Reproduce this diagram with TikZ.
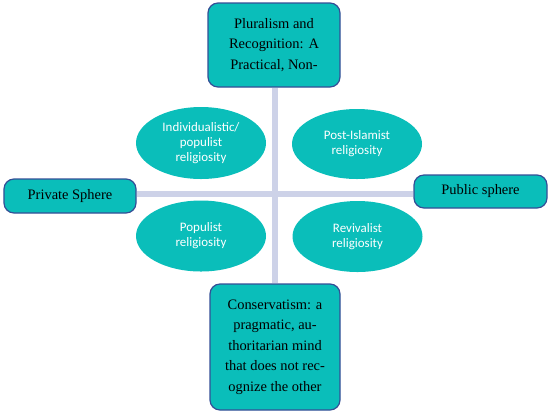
\documentclass[tikz,border=0pt]{standalone}
\usepackage{fontspec}
\setmainfont{Liberation Serif}
\newfontfamily\ellipsefont{Carlito}
\usetikzlibrary{shapes.geometric,backgrounds}
\definecolor{boxteal}{RGB}{10,190,186}
\definecolor{boxblue}{RGB}{52,78,150}
\definecolor{axisgrey}{RGB}{205,210,232}
\tikzset{
  sphere/.style={draw=boxblue,fill=boxteal,line width=1.2bp,rounded corners=10bp,
    align=center,font=\fontsize{14.5}{20.5}\selectfont,inner sep=0pt},
  religiosity/.style={ellipse,fill=boxteal,text=white,align=center,
    font=\ellipsefont\fontsize{13}{15}\selectfont,
    minimum width=130bp,minimum height=72bp,inner sep=0pt},
  axis/.style={draw=axisgrey,line width=6bp}
}

\begin{document}
\begin{tikzpicture}[x=1bp,y=-1bp]
\useasboundingbox (0,0) rectangle (550,414);
\node[sphere,minimum width=132bp,minimum height=84bp] (pluralism) at (274,45)
  {Pluralism and\\Recognition: A\\Practical, Non-};
\node[sphere,minimum width=130bp,minimum height=126bp] (conservatism) at (275,347)
  {Conservatism: a\\pragmatic, au-\\thoritarian mind\\that does not rec-\\ognize the other};
\node[sphere,minimum width=132bp,minimum height=34bp] (private) at (70,196) {Private Sphere};
\node[sphere,minimum width=133bp,minimum height=33bp] (public) at (480.5,191.5) {Public sphere};
\node[religiosity] (individualistic) at (201,143) {Individualistic/\\populist\\religiosity};
\node[religiosity,minimum height=70bp] (postislamist) at (357,144) {Post-Islamist\\religiosity};
\node[religiosity,minimum height=71bp] (populist) at (201,236) {Populist\\religiosity};
\node[religiosity,minimum height=71bp] (revivalist) at (357.5,236.5) {Revivalist\\religiosity};
\coordinate (cross) at (274.5,194);
\begin{scope}[on background layer]
\draw[axis] (private.east |- cross) -- (public.west |- cross);
\draw[axis] (pluralism.south -| cross) -- (conservatism.north -| cross);
\end{scope}
\end{tikzpicture}
\end{document}
